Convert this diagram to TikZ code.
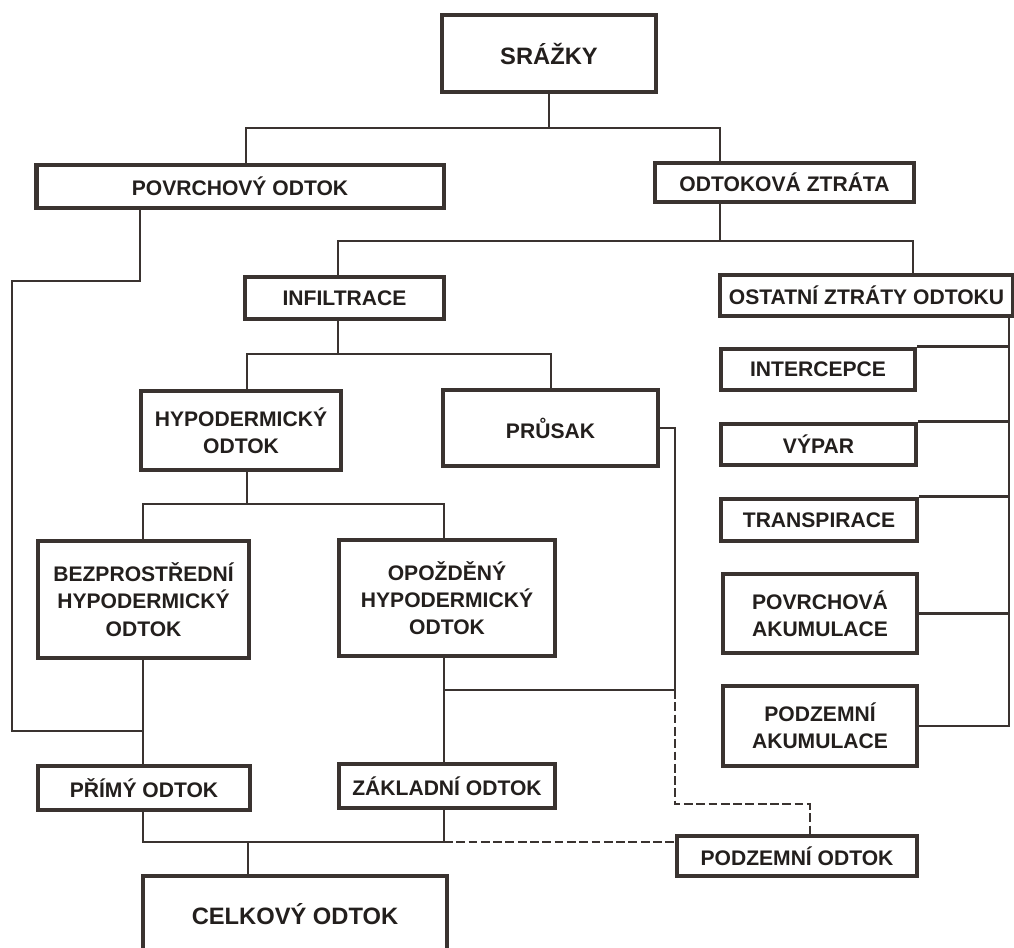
\documentclass[tikz,border=0pt]{standalone}
\usepackage{fontspec}
\setmainfont{Liberation Sans}
\usetikzlibrary{positioning, calc}

\definecolor{ink}{HTML}{3A3330}

\begin{document}
\begin{tikzpicture}[x=0.02cm, y=-0.02cm,
    box/.style={draw=ink, line width=2.8pt, fill=white, align=center, inner sep=2pt,
        text=ink!60!black, font=\bfseries\fontsize{12}{15.5}\selectfont},
    bigbox/.style={box, font=\bfseries\fontsize{13.5}{16}\selectfont},
    link/.style={draw=ink, line width=1.5pt},
    seep/.style={link, dash pattern=on 5pt off 2pt}
]
\useasboundingbox (0,0) rectangle (1014,947);
\clip (0,0) rectangle (1014,947);

% Top level
\node[bigbox, minimum width=4.28cm, minimum height=1.54cm] (srazky) at (549,53.5) {SRÁŽKY};
\node[box, minimum width=8.16cm, minimum height=0.86cm] (povrch) at (240,186.5) {POVRCHOVÝ ODTOK};
\node[box, minimum width=5.18cm, minimum height=0.78cm] (ztrata) at (784.5,182.5) {ODTOKOVÁ ZTRÁTA};

% Second level
\node[box, minimum width=3.98cm, minimum height=0.84cm] (infil) at (344.5,298) {INFILTRACE};
\node[box, minimum width=5.86cm, minimum height=0.82cm] (ostatni) at (866.5,295.5) {OSTATNÍ ZTRÁTY ODTOKU};

% Infiltration branch
\node[box, minimum width=4.0cm, minimum height=1.58cm] (hypo) at (241,430.5) {HYPODERMICKÝ\\ODTOK};
\node[box, minimum width=4.3cm, minimum height=1.52cm] (prusak) at (550.5,428) {PRŮSAK};
\node[box, minimum width=4.22cm, minimum height=2.34cm] (bezpr) at (143.5,599.5) {BEZPROSTŘEDNÍ\\HYPODERMICKÝ\\ODTOK};
\node[box, minimum width=4.32cm, minimum height=2.32cm] (opozd) at (447,598) {OPOŽDĚNÝ\\HYPODERMICKÝ\\ODTOK};

% Other losses
\node[box, minimum width=3.88cm, minimum height=0.82cm] (intercepce) at (818,369.5) {INTERCEPCE};
\node[box, minimum width=3.9cm, minimum height=0.82cm] (vypar) at (818.5,444.5) {VÝPAR};
\node[box, minimum width=3.92cm, minimum height=0.84cm] (transp) at (819,520) {TRANSPIRACE};
\node[box, minimum width=3.88cm, minimum height=1.58cm] (povakum) at (820,613.5) {POVRCHOVÁ\\AKUMULACE};
\node[box, minimum width=3.88cm, minimum height=1.6cm] (podakum) at (820,726) {PODZEMNÍ\\AKUMULACE};

% Runoff components
\node[box, minimum width=4.24cm, minimum height=0.88cm] (primy) at (144,788) {PŘÍMÝ ODTOK};
\node[box, minimum width=4.32cm, minimum height=0.88cm] (zakl) at (447,786) {ZÁKLADNÍ ODTOK};
\node[box, minimum width=4.8cm, minimum height=0.8cm] (pododtok) at (797,856) {PODZEMNÍ ODTOK};
\node[bigbox, minimum width=6.08cm, minimum height=1.52cm] (celkovy) at (295,914) {CELKOVÝ ODTOK};

% Junction points
\coordinate (b1) at (246,128);
\coordinate (b2) at (720,128);
\coordinate (b3) at (338,241);
\coordinate (b4) at (913,241);
\coordinate (b5) at (247,354);
\coordinate (b6) at (551,354);
\coordinate (b7) at (143,504);
\coordinate (b8) at (444,504);
\coordinate (p1) at (140,281);
\coordinate (p2) at (12,281);
\coordinate (p3) at (12,731);
\coordinate (q1) at (444,690);
\coordinate (q2) at (675,690);
\coordinate (d1) at (675,804);
\coordinate (d2) at (810,804);
\coordinate (c1) at (143,842);
\coordinate (c2) at (444,842);
\coordinate (c0) at (248,842);
\coordinate (r5) at (1009,726);

% Precipitation split
\draw[link] (srazky.south) -- (srazky.south |- b1);
\draw[link] (povrch.north -| b1) -- (b1) -- (b2) -- (ztrata.north -| b2);

% Runoff loss split
\draw[link] (ztrata.south -| b2) -- (b2 |- b3);
\draw[link] (infil.north -| b3) -- (b3) -- (b4) -- (ostatni.north -| b4);

% Surface runoff to direct runoff
\draw[link] (povrch.south -| p1) -- (p1) -- (p2) -- (p3) -- (p3 -| c1);

% Infiltration split
\draw[link] (infil.south -| b3) -- (b3 |- b5);
\draw[link] (hypo.north -| b5) -- (b5) -- (b6) -- (prusak.north -| b6);

% Subsurface flow split
\draw[link] (hypo.south -| b5) -- (b5 |- b7);
\draw[link] (bezpr.north -| b7) -- (b7) -- (b8) -- (opozd.north -| b8);
\draw[link] (bezpr.south -| b7) -- (primy.north -| b7);
\draw[link] (opozd.south -| b8) -- (zakl.north -| b8);

% Percolation
\draw[link] (prusak.east) -| (q2);
\draw[link] (q1) -- (q2);
\draw[seep] (q2) -- (d1) -- (d2) -- (pododtok.north -| d2);

% Total runoff
\draw[link] (primy.south -| c1) -- (c1) -- (c2);
\draw[link] (zakl.south -| c2) -- (c2);
\draw[link] (c0) -- (celkovy.north -| c0);
\draw[seep] (c2) -- (pododtok.west |- c2);

% Other losses
\draw[link] (ostatni.south -| r5) |- (podakum.east);
\foreach \n in {intercepce, vypar, transp} {
    \draw[link] (\n.north east) -- (\n.north east -| r5);
}
\draw[link] (povakum.east) -- (povakum.east -| r5);

\end{tikzpicture}
\end{document}
